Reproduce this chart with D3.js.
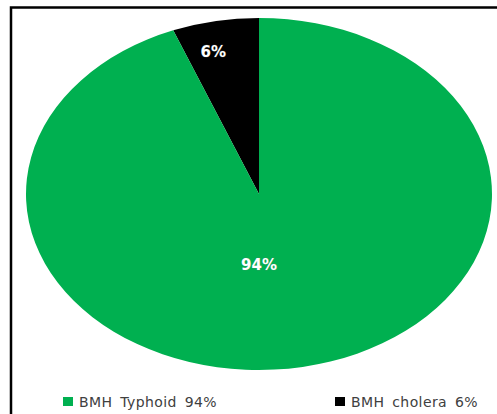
<!DOCTYPE html>
<html><head><meta charset="utf-8">
<script src="https://cdn.jsdelivr.net/npm/d3@7"></script>
<style>body{margin:0;background:#fff}svg{display:block}</style>
</head><body>
<svg id="c" width="497" height="414"></svg>
<script>
const categories = ["BMH Typhoid", "BMH cholera"];
const values = [94, 6];
const labels = ["94%", "6%"];
const legendLabels = ["BMH Typhoid 94%", "BMH cholera 6%"];
const colors = ["#00B050", "#000000"];

const svg = d3.select("#c");
// frame
svg.append("path").attr("d","M11,414 V7.5 H497").attr("fill","none").attr("stroke","#000").attr("stroke-width",2.5);

const cx = 259, cy = 194, rx = 233, ry = 176;
const data = categories.map((c,i)=>({c, v:values[i], l:labels[i], col:colors[i]}));
const pie = d3.pie().value(d=>d.v).sort(null).startAngle(-2*Math.PI*values[1]/100).endAngle(2*Math.PI - 2*Math.PI*values[1]/100);
const order = [data[1], data[0]];
const arcs = pie(order);
const arc = d3.arc().innerRadius(0).outerRadius(ry);
const g = svg.append("g").attr("transform",`translate(${cx},${cy}) scale(${rx/ry},1)`);
g.selectAll("path").data(arcs).enter().append("path")
  .attr("d",arc).attr("fill",d=>d.data.col);

const lab = svg.append("g").attr("transform",`translate(${cx},${cy})`);
arcs.forEach(a=>{
  let ang, r;
  if (a.data.v < 50) { ang = (a.startAngle+a.endAngle)/2 - 0.05; r = 0.83; }
  else { ang = Math.PI; r = 0.4; }
  const x = Math.sin(ang)*r*rx, y = -Math.cos(ang)*r*ry;
  lab.append("text").attr("x",x).attr("y",y).attr("dy","0.35em")
    .attr("text-anchor","middle").attr("fill","#fff")
    .attr("font-family","DejaVu Sans, Verdana, sans-serif").attr("font-weight","bold").attr("font-size",15)
    .attr("style","paint-order:stroke").attr("stroke","rgba(120,120,120,0.35)").attr("stroke-width",0.8)
    .text(a.data.l);
});

const legX = [63, 335];
const leg = svg.append("g");
data.forEach((d,i)=>{
  leg.append("rect").attr("x",legX[i]).attr("y",397).attr("width",10).attr("height",9).attr("fill",d.col);
  leg.append("text").attr("x",legX[i]+16).attr("y",407).attr("fill","#404040")
    .attr("font-family","DejaVu Sans, Verdana, sans-serif").attr("font-size",14).attr("letter-spacing",0.4).attr("word-spacing",3)
    .text(legendLabels[i]);
});
</script>
</body></html>
